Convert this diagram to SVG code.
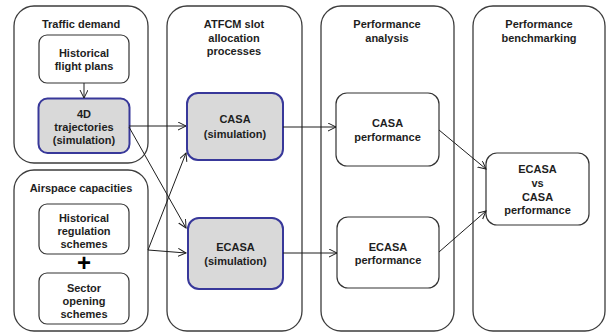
<svg xmlns="http://www.w3.org/2000/svg" width="608" height="334" viewBox="0 0 608 334">
<style>
text{font-family:"Liberation Sans",Arial,sans-serif;font-weight:bold;font-size:11px;fill:#1e1e1e;text-anchor:middle}
.cont{fill:#fff;stroke:#3c3c3c;stroke-width:1.3}
.box{fill:#fff;stroke:#333;stroke-width:1.2}
.sim{fill:#d9d9d9;stroke:#38389a;stroke-width:2}
.con{stroke:#1e1e1e;stroke-width:1;fill:none;marker-end:url(#ah)}
</style>
<defs>
<marker id="ah" markerUnits="userSpaceOnUse" markerWidth="10" markerHeight="10" refX="8" refY="4" orient="auto">
<path d="M0,0 L8,4 L0,8" fill="none" stroke="#1e1e1e" stroke-width="1"/>
</marker>
</defs>
<g id="traffic-demand">
<rect class="cont" x="14" y="6" width="134" height="157" rx="20"/>
<text x="81" y="28">Traffic demand</text>
</g>
<g id="airspace-capacities">
<rect class="cont" x="14" y="170" width="134" height="161" rx="20"/>
<text x="81" y="192">Airspace capacities</text>
</g>
<g id="atfcm">
<rect class="cont" x="167" y="6" width="135" height="325" rx="20"/>
<text x="234" y="28">ATFCM slot</text>
<text x="234" y="41.5">allocation</text>
<text x="234" y="55">processes</text>
</g>
<g id="performance-analysis">
<rect class="cont" x="321" y="6" width="133" height="325" rx="20"/>
<text x="387" y="28">Performance</text>
<text x="387" y="41.5">analysis</text>
</g>
<g id="performance-benchmarking">
<rect class="cont" x="473" y="6" width="132" height="325" rx="20"/>
<text x="539" y="28">Performance</text>
<text x="539" y="41.5">benchmarking</text>
</g>
<g id="historical-flight-plans">
<rect class="box" x="39" y="35" width="90" height="48" rx="8"/>
<text x="84" y="57">Historical</text>
<text x="84" y="70">flight plans</text>
</g>
<g id="trajectories">
<rect class="sim" x="38.5" y="98.5" width="91" height="54.5" rx="9"/>
<text x="84" y="118">4D</text>
<text x="84" y="131">trajectories</text>
<text x="84" y="144">(simulation)</text>
</g>
<g id="historical-regulation">
<rect class="box" x="39" y="204" width="90" height="50" rx="8"/>
<text x="84" y="222">Historical</text>
<text x="84" y="235">regulation</text>
<text x="84" y="248">schemes</text>
</g>
<g id="plus">
<text x="84" y="271" style="font-size:24px;fill:#000">+</text>
</g>
<g id="sector-opening">
<rect class="box" x="39" y="273" width="90" height="51" rx="8"/>
<text x="84" y="292">Sector</text>
<text x="84" y="305">opening</text>
<text x="84" y="318">schemes</text>
</g>
<g id="casa-sim">
<rect class="sim" x="187" y="93" width="96" height="67" rx="11"/>
<text x="235" y="123">CASA</text>
<text x="235" y="138">(simulation)</text>
</g>
<g id="ecasa-sim">
<rect class="sim" x="188" y="218" width="95" height="71" rx="11"/>
<text x="235.5" y="251">ECASA</text>
<text x="235.5" y="265">(simulation)</text>
</g>
<g id="casa-perf">
<rect class="box" x="336" y="93" width="103" height="73" rx="11"/>
<text x="387.5" y="127">CASA</text>
<text x="387.5" y="141">performance</text>
</g>
<g id="ecasa-perf">
<rect class="box" x="337" y="217" width="102" height="71" rx="11"/>
<text x="388" y="251">ECASA</text>
<text x="388" y="264">performance</text>
</g>
<g id="benchmark">
<rect class="box" x="486" y="153" width="103" height="72" rx="11"/>
<text x="537.5" y="173">ECASA</text>
<text x="537.5" y="187">vs</text>
<text x="537.5" y="201">CASA</text>
<text x="537.5" y="214">performance</text>
</g>
<g id="connectors">
<line class="con" x1="84" y1="83" x2="84" y2="98"/>
<line class="con" x1="129" y1="126" x2="186" y2="126"/>
<line class="con" x1="129" y1="127" x2="186" y2="228"/>
<line class="con" x1="148" y1="250" x2="186" y2="253"/>
<line class="con" x1="148" y1="250" x2="186" y2="153"/>
<line class="con" x1="283" y1="127" x2="336" y2="127"/>
<line class="con" x1="283" y1="253" x2="337" y2="253"/>
<line class="con" x1="439" y1="130" x2="486" y2="169"/>
<line class="con" x1="439" y1="252" x2="486" y2="211"/>
</g>
</svg>
